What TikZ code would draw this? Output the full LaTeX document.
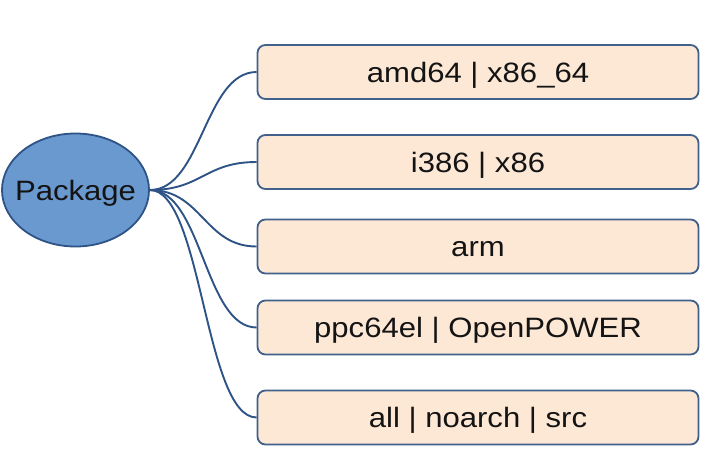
\documentclass[tikz,border=0pt]{standalone}
\usepackage{fontspec}
\setmainfont{Liberation Sans}[FakeStretch=1.11]
\usetikzlibrary{shapes.geometric}
\definecolor{ellfill}{HTML}{6A99D0}
\definecolor{ellline}{HTML}{2E5386}
\definecolor{boxfill}{HTML}{FDE8D6}
\definecolor{boxline}{HTML}{41608C}
\definecolor{conn}{HTML}{2E5386}
\definecolor{txt}{HTML}{141414}
\tikzset{
  root/.style={ellipse, draw=ellline, fill=ellfill, line width=1.8pt, minimum width=147pt, minimum height=113pt, inner sep=0pt,
    label={[font=\fontsize{28}{30}\selectfont, text=txt, inner sep=0pt, text height=20pt, text depth=0pt]center:Package}},
  archbox/.style={rectangle, rounded corners=8pt, draw=boxline, fill=boxfill, line width=1.8pt, minimum width=441pt, minimum height=54pt, inner sep=0pt, text height=20pt, text depth=0pt, font=\fontsize{28}{30}\selectfont, text=txt},
  link/.style={draw=conn, line width=1.9pt}
}
\begin{document}
\begin{tikzpicture}[x=1pt,y=-1pt]
\useasboundingbox (0,0) rectangle (712,467);
\node[root] (P) at (75.5,190) {};
\node[archbox] (b1) at (478,72) {amd64 | x86\_64};
\node[archbox] (b2) at (478,162) {i386 | x86};
\node[archbox] (b3) at (478,246.5) {arm};
\node[archbox] (b4) at (478,327.5) {ppc64el | OpenPOWER};
\node[archbox] (b5) at (478,417.5) {all | noarch | src};
\foreach \b in {b1,b2,b3,b4,b5}{
  \draw[link] (P.east) .. controls +(52,0) and +(-52,0) .. (\b.west);
}
\end{tikzpicture}
\end{document}
